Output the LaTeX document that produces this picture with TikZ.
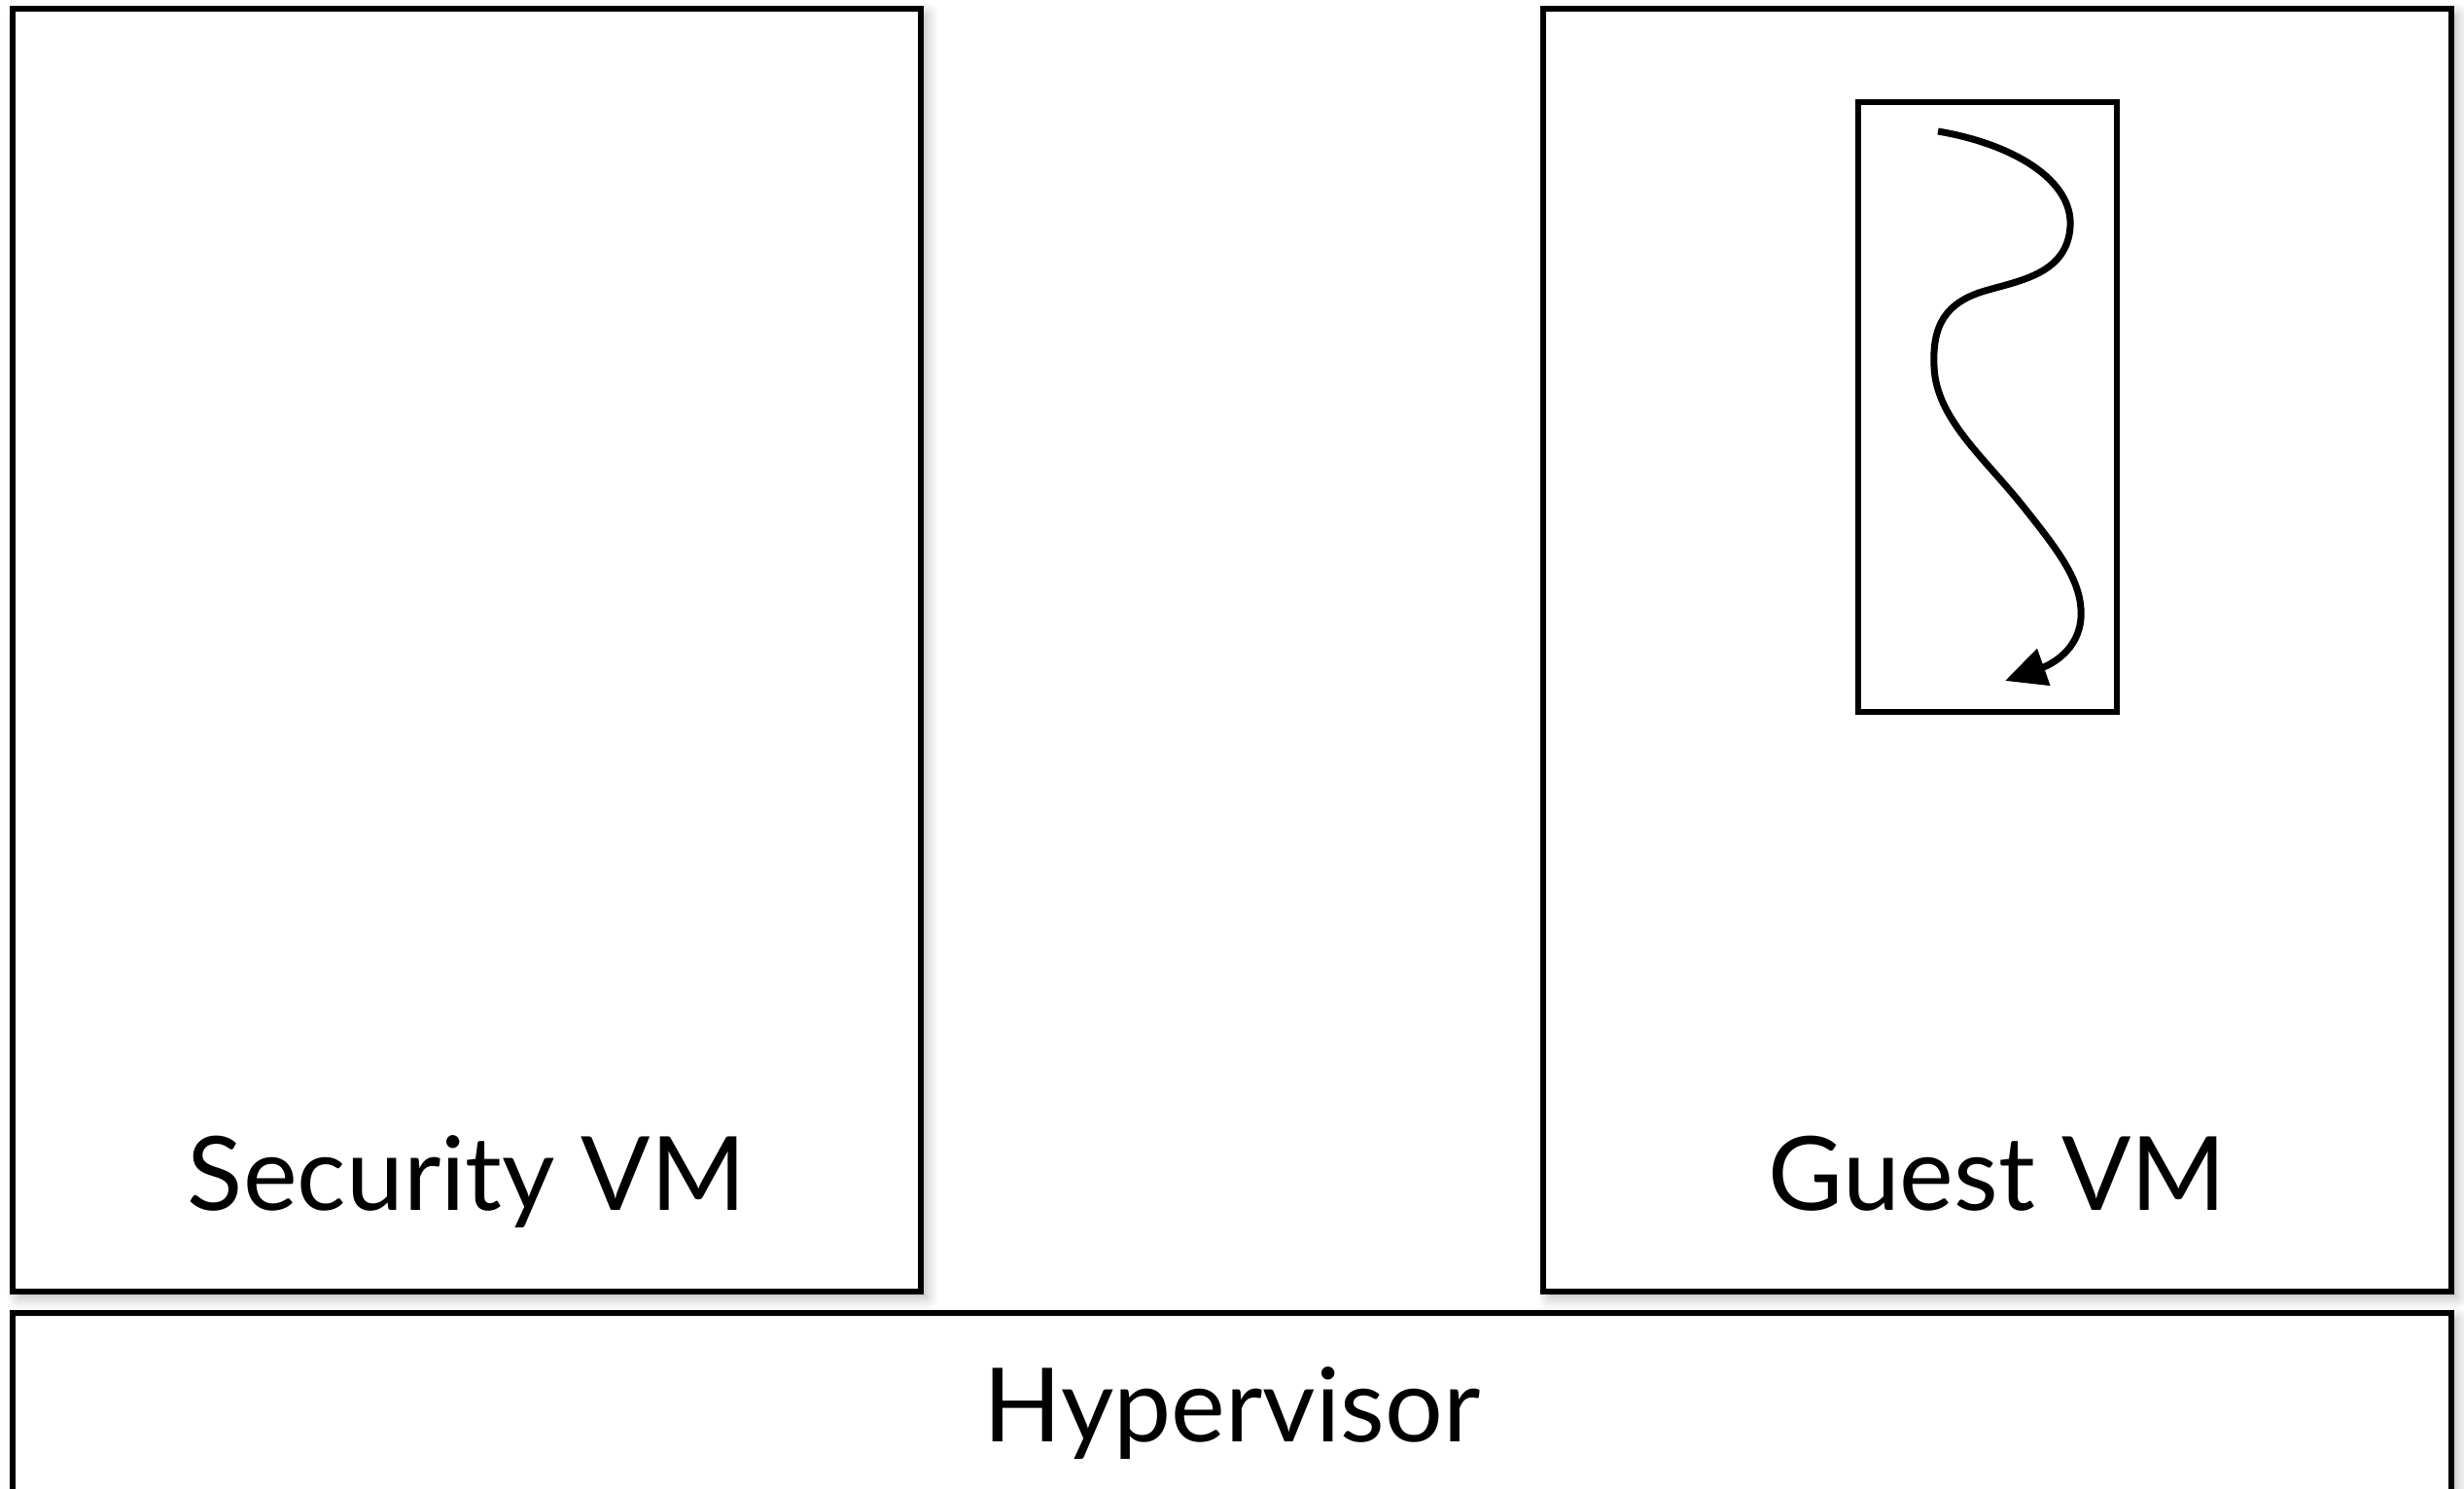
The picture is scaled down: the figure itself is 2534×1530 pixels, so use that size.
\documentclass[tikz,border=0pt]{standalone}
\usepackage{fontspec}
\setmainfont{Lato}
\usetikzlibrary{fit,shadows.blur,arrows.meta}
\begin{document}
\begin{tikzpicture}[x=0.01cm,y=-0.01cm,
  frame/.style={draw=black,line width=1.45pt,fill=white,inner sep=0pt,
    blur shadow={shadow xshift=0.06cm,shadow yshift=-0.06cm,shadow blur steps=6,shadow opacity=30,shadow blur radius=0.12cm}},
  plainframe/.style={draw=black,line width=1.45pt,inner sep=0pt},
  label/.style={font=\fontsize{30}{34}\selectfont,anchor=base},
  flow/.style={line width=2pt,-{Triangle[length=12pt,width=11pt]}}]
  \useasboundingbox (0,0) rectangle (2534,1530);
  % virtual machines and the hypervisor beneath them
  \node[frame,fit={(13,9)(947,1328)}] (sec) {};
  \node[frame,fit={(1587,9)(2521,1328)}] (guest) {};
  \node[frame,fit={(13,1350)(2521,1600)}] (hyp) {};
  \node[label] (seclbl) at (480,1244) {Security VM};
  \node[label] (guestlbl) at (2054,1244) {Guest VM};
  \node[label] (hyplbl) at (1267,1482) {Hypervisor};
  % process inside the guest with its execution path
  \node[plainframe,fit={(1911,105)(2177,732)}] (proc) {};
  \coordinate (pstart) at (1993,135);
  \coordinate (pend) at (2062,700);
  \draw[flow] (pstart) .. controls (2070,148) and (2132,185) .. (2129,233)
    .. controls (2126,280) and (2080,288) .. (2045,298)
    .. controls (2000,310) and (1987,335) .. (1989,377)
    .. controls (1991,430) and (2040,470) .. (2080,520)
    .. controls (2120,570) and (2142,600) .. (2140,635)
    .. controls (2138,668) and (2110,683) .. (pend);
\end{tikzpicture}
\end{document}
